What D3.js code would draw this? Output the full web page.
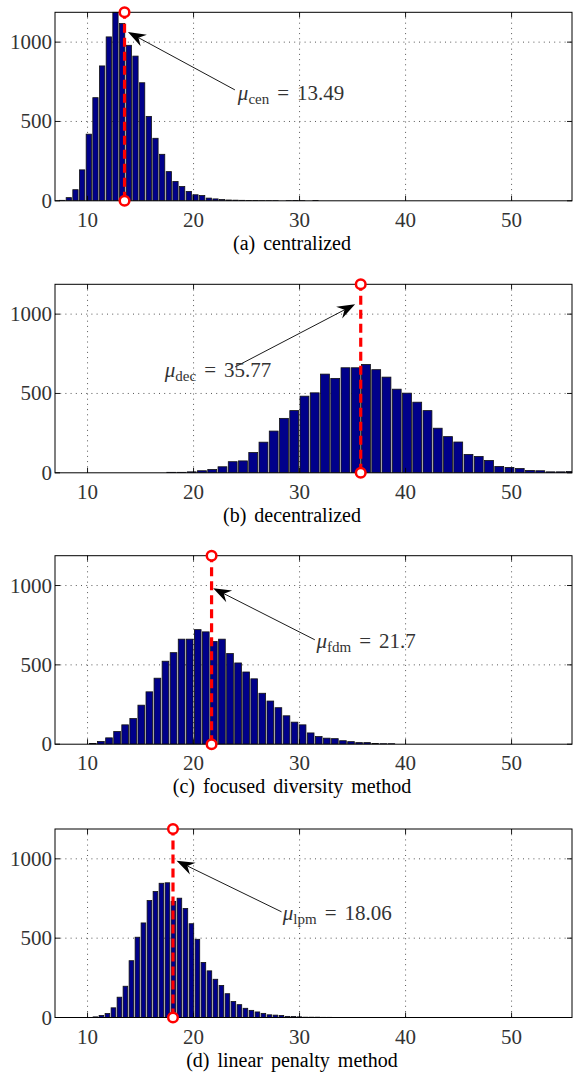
<!DOCTYPE html>
<html><head><meta charset="utf-8">
<script src="https://cdn.jsdelivr.net/npm/d3@7"></script>
<style>
body{margin:0;background:#fff} svg{display:block}
text{font-family:"Liberation Serif","DejaVu Serif",serif}
</style>
</head><body>
<svg id="chart" width="573" height="1078"></svg>
<script>
// ---- data ----
const xTicks = [10, 20, 30, 40, 50];
const yTicks = [0, 500, 1000];
const xDomain = [6.93, 55.7];
const yMax = 1188;

const captions = ["(a) centralized", "(b) decentralized", "(c) focused diversity method", "(d) linear penalty method"];
const meanSubscripts = ["cen", "dec", "fdm", "lpm"];
const meanValues = [13.49, 35.77, 21.7, 18.06];
const meanLabels = ["13.49", "35.77", "21.7", "18.06"];

// histogram bins: first bin centre, bin width, counts
const binStarts = [7.63, 17.92, 10.53, 10.77];
const binWidths = [0.629, 0.967, 0.761, 0.566];
const centralizedCounts = [3,20,70,195,420,650,850,1033,1188,1117,980,912,744,532,394,293,184,122,90,59,38,33,17,12,8,5,4,3,2,2,1,1,1,0,1,2,1,0,2];
const decentralizedCounts = [3,3,6,13,21,38,70,75,128,193,263,343,392,483,504,622,595,662,662,683,650,603,527,502,445,392,281,228,194,116,103,78,40,34,27,15,13,6,6,8];
const fdmCounts = [4,17,40,80,122,162,246,330,416,523,577,662,662,722,708,647,662,571,512,455,412,321,272,230,179,139,122,71,48,38,35,22,16,10,10,4,3,3];
const lpmCounts = [4,13,25,61,128,197,358,506,596,737,794,846,849,732,752,687,591,493,347,294,241,202,150,101,81,58,45,35,26,17,15,13,7,6,4,2,2,2,1,1];
const allCounts = [centralizedCounts, decentralizedCounts, fdmCounts, lpmCounts];

// annotation arrows (data coordinates): tip, tail, label anchor
const arrowTips = [[13.81, 1064], [35.24, 1062], [21.85, 983], [18.40, 988]];
const arrowTails = [[23.9, 699], [23.92, 667], [31.44, 658], [28.30, 666]];
const labelAnchors = [[24.18, 633], [17.29, 602], [31.6, 606], [28.42, 614]];

// ---- layout ----
const panelTops = [12.3, 284.3, 555.7, 829];
const panelH = 188.5;
const left = 55, right = 572;

const svg = d3.select("#chart");
const x = d3.scaleLinear().domain(xDomain).range([left, right]);

panelTops.forEach((top, p) => {
  const y = d3.scaleLinear().domain([0, yMax]).range([top + panelH, top]);
  const g = svg.append("g");
  const clipId = "clip" + p;
  svg.append("clipPath").attr("id", clipId).append("rect")
    .attr("x", left).attr("y", top - 1).attr("width", right - left).attr("height", panelH + 1);

  // grid
  const grid = g.append("g").attr("stroke", "#444").attr("stroke-width", 0.9).attr("stroke-dasharray", "1,4.2");
  grid.selectAll(".gx").data(xTicks).join("line")
    .attr("x1", d => x(d)).attr("x2", d => x(d)).attr("y1", top).attr("y2", top + panelH);
  grid.selectAll(".gy").data(yTicks.filter(d => d > 0)).join("line")
    .attr("x1", left).attr("x2", right).attr("y1", d => y(d)).attr("y2", d => y(d));

  // bars
  const counts = allCounts[p];
  const w = binWidths[p];
  const wPx = x(xDomain[0] + w) - x(xDomain[0]);
  const bins = counts.map((c, i) => ({c: binStarts[p] + i * w, n: c}));
  g.append("g").attr("clip-path", `url(#${clipId})`)
    .selectAll("rect").data(bins).join("rect")
    .attr("x", d => x(d.c) - wPx / 2 + 0.4)
    .attr("width", wPx - 1.4)
    .attr("y", d => y(d.n))
    .attr("height", d => y(0) - y(d.n))
    .attr("fill", "#00008a").attr("stroke", "#111").attr("stroke-width", 0.8);

  // box
  g.append("rect").attr("x", left).attr("y", top).attr("width", right - left).attr("height", panelH)
    .attr("fill", "none").attr("stroke", "#000").attr("stroke-width", 1);

  // ticks (inward, all sides)
  const tk = g.append("g").attr("stroke", "#000").attr("stroke-width", 0.9);
  xTicks.forEach(t => {
    tk.append("line").attr("x1", x(t)).attr("x2", x(t)).attr("y1", top + panelH).attr("y2", top + panelH - 5);
    tk.append("line").attr("x1", x(t)).attr("x2", x(t)).attr("y1", top).attr("y2", top + 5);
  });
  yTicks.forEach(t => {
    tk.append("line").attr("x1", left).attr("x2", left + 5).attr("y1", y(t)).attr("y2", y(t));
    tk.append("line").attr("x1", right).attr("x2", right - 5).attr("y1", y(t)).attr("y2", y(t));
  });

  // tick labels
  g.selectAll(".xl").data(xTicks).join("text")
    .attr("x", d => x(d)).attr("y", top + panelH + 26)
    .attr("text-anchor", "middle").style("font-size", "21px").attr("fill", "#333")
    .text(d => d);
  g.selectAll(".yl").data(yTicks).join("text")
    .attr("x", left - 3).attr("y", d => y(d) + 7)
    .attr("text-anchor", "end").style("font-size", "21px").attr("fill", "#333")
    .text(d => d);

  // caption
  g.append("text").attr("x", 292).attr("y", top + panelH + 49)
    .attr("text-anchor", "middle").style("font-size", "20px")
    .style("word-spacing", "3px").attr("fill", "#000").text(captions[p]);

  // mean marker
  const m = meanValues[p];
  g.append("line").attr("x1", x(m)).attr("x2", x(m)).attr("y1", y(0)).attr("y2", y(yMax))
    .attr("stroke", "#ff0000").attr("stroke-width", 3.2).attr("stroke-dasharray", "9,5");
  [0, yMax].forEach(v => {
    g.append("circle").attr("cx", x(m)).attr("cy", y(v)).attr("r", 4.8)
      .attr("fill", "#fff").attr("stroke", "#ff0000").attr("stroke-width", 2.5);
  });

  // arrow
  const [tx, ty] = [x(arrowTips[p][0]), y(arrowTips[p][1])];
  const [sx, sy] = [x(arrowTails[p][0]), y(arrowTails[p][1])];
  const ang = Math.atan2(ty - sy, tx - sx);
  const L = 18, H = 6.5, N = 12;
  const ca = Math.cos(ang), sa = Math.sin(ang);
  const pt = (a, b) => [tx - a * ca - b * (-sa), ty - a * sa - b * ca];
  g.append("line").attr("x1", sx).attr("y1", sy).attr("x2", pt(N, 0)[0]).attr("y2", pt(N, 0)[1])
    .attr("stroke", "#000").attr("stroke-width", 0.9);
  g.append("path").attr("d", d3.line()([[tx, ty], pt(L, H), pt(N, 0), pt(L, -H)]) + "Z")
    .attr("fill", "#000");

  // label
  const lt = g.append("text").attr("x", x(labelAnchors[p][0])).attr("y", y(labelAnchors[p][1]))
    .style("font-size", "21px").attr("fill", "#333");
  lt.append("tspan").style("font-style", "italic").text("μ");
  lt.append("tspan").style("font-size", "15px").attr("dy", 4).text(meanSubscripts[p]);
  lt.append("tspan").attr("dy", -4).attr("dx", 8).text("=");
  lt.append("tspan").attr("dx", 8).text(meanLabels[p]);
});
</script>
</body></html>
